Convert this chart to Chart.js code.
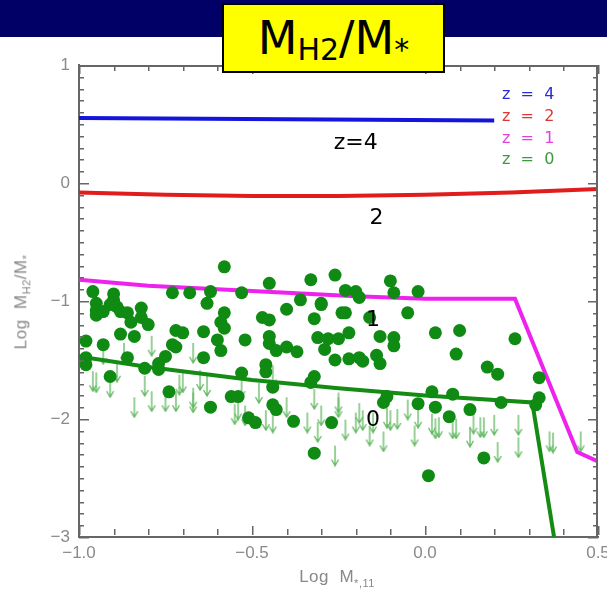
<!DOCTYPE html>
<html lang="en">
  <head>
    <meta charset="UTF-8" />
    <title>MH2/M* vs stellar mass</title>
    <script src="https://cdn.jsdelivr.net/npm/chart.js@4.4.0/dist/chart.umd.min.js"></script>
    <style>
      body { margin: 0; background: #fff; width: 607px; height: 595px; position: relative; overflow: hidden; }
      #band { position: absolute; left: 0; top: 0; width: 607px; height: 37px; background: #000066; }
      #wrap { position: absolute; left: 0; top: 0; width: 607px; height: 595px; }
      #title {
        position: absolute; left: 222px; top: 3px; width: 219px; height: 66px;
        background: #ffff00; border: 2px solid #000; text-align: center;
        font-family: "DejaVu Sans", sans-serif; font-size: 46px; line-height: 66px; color: #000;
      }
      #title sub { font-size: 30px; vertical-align: -6px; line-height: 0; }
      .axt { position: absolute; font-family: "Liberation Sans", sans-serif; font-size: 17px; color: #888; white-space: nowrap; letter-spacing: 0.5px; }
      .axt sub { font-size: 11px; }
      #ytitle { left: 22px; top: 302px; transform: translate(-50%, -50%) rotate(-90deg); }
      #xtitle { left: 337px; top: 578px; transform: translate(-50%, -50%); }
    </style>
  </head>
  <body>
    <div id="band"></div>
    <div id="wrap"><canvas id="chart" width="607" height="595"></canvas></div>
    <div id="title">M<sub>H2</sub>/M<sub>*</sub></div>
    <div class="axt" id="ytitle">Log&nbsp; M<sub>H2</sub>/M<sub>*</sub></div>
    <div class="axt" id="xtitle">Log&nbsp; M<sub>*,11</sub></div>

    <script>
      // model curves (log M*,11 -> log MH2/M*)
      const z4X = [-1.0, -0.4, 0.2];
      const z4Y = [0.55, 0.54, 0.53];
      const z2X = [-1.0, -0.75, -0.5, -0.25, 0.0, 0.25, 0.5];
      const z2Y = [-0.08, -0.1, -0.11, -0.11, -0.1, -0.08, -0.05];
      const z1X = [-1.0, -0.8, -0.6, -0.4, -0.2, 0.0, 0.26, 0.44, 0.5];
      const z1Y = [-0.82, -0.87, -0.9, -0.93, -0.96, -0.98, -0.98, -2.28, -2.36];
      const z0X = [-1.0, -0.8, -0.5, -0.25, 0.0, 0.31, 0.373];
      const z0Y = [-1.47, -1.56, -1.67, -1.74, -1.8, -1.86, -3.0];

      // detections (filled circles)
      const detX = [
        -0.58, -0.96, -0.9, -0.95, -0.95, -0.95, -0.93, -0.91, -0.9, -0.89, -0.88, -0.86, -0.85, -0.82, -0.82,
        -0.8, -0.73, -0.68, -0.62, -0.63, -0.53, -0.45, -0.33, -0.36, -0.3, -0.4, -0.58, -0.59, -0.58, -0.47,
        -0.45, -0.32, -0.72, -0.7, -0.64, -0.88, -0.84, -0.45, -0.45, -0.43, -0.31, -0.29, -0.52, -0.6, -0.59,
        -0.98, -0.93, -0.73, -0.72, -0.4, -0.37, -0.75, -0.86, -0.64, -0.98, -0.98, -0.77, -0.77, -0.81, -0.46,
        -0.46, -0.53, -0.91, -0.32, -0.33, -0.44, -0.74, -0.56, -0.54, -0.62, -0.44, -0.43, -0.51, -0.49, -0.38,
        -0.27, -0.32, -0.26, -0.23, -0.2, -0.19, -0.1, -0.09, -0.02, -0.3, -0.24, -0.23, -0.16, -0.05, 0.03,
        0.1, 0.26, -0.28, -0.25, -0.22, -0.13, -0.09, -0.09, -0.26, -0.22, -0.19, -0.18, -0.14, -0.13, 0.09,
        0.18, 0.21, 0.33, 0.02, 0.08, -0.11, -0.12, 0.33, 0.32, 0.22, 0.13, -0.02, 0.03, 0.07, 0.17, 0.01,
      ];
      const detY = [
        -0.71, -0.92, -0.94, -1.02, -1.08, -1.12, -1.09, -1.03, -0.99, -1.05, -1.09, -1.1, -1.18, -1.06, -1.14,
        -1.2, -0.93, -0.93, -0.92, -1.02, -0.93, -0.85, -0.82, -0.99, -1.02, -1.07, -1.1, -1.18, -1.23, -1.14,
        -1.16, -1.15, -1.25, -1.27, -1.26, -1.28, -1.3, -1.3, -1.36, -1.42, -1.31, -1.41, -1.33, -1.33, -1.42,
        -1.34, -1.37, -1.37, -1.39, -1.39, -1.43, -1.47, -1.48, -1.48, -1.48, -1.54, -1.53, -1.58, -1.57, -1.54,
        -1.6, -1.61, -1.64, -1.64, -1.69, -1.73, -1.77, -1.81, -1.81, -1.9, -1.88, -1.92, -1.99, -2.03, -2.02,
        -2.03, -2.29, -0.78, -0.91, -0.92, -0.97, -0.83, -0.93, -0.92, -1.03, -1.1, -1.1, -1.14, -1.1, -1.27,
        -1.25, -1.32, -1.32, -1.32, -1.27, -1.3, -1.31, -1.38, -1.5, -1.49, -1.48, -1.51, -1.46, -1.53, -1.45,
        -1.56, -1.62, -1.65, -1.77, -1.79, -1.81, -1.86, -1.82, -1.88, -1.86, -1.92, -1.87, -1.9, -1.98, -2.33, -2.48,
      ];

      // upper limits (arrows)
      const limX = [
        -0.79, -0.93, -0.87, -0.67, -0.96, -0.95, -0.91, -0.89, -0.81, -0.71, -0.7, -0.65, -0.63, -0.53, -0.48,
        -0.44, -0.32, -0.84, -0.79, -0.75, -0.72, -0.67, -0.67, -0.55, -0.54, -0.52, -0.44, -0.46, -0.4, -0.34,
        -0.31, -0.3, -0.25, -0.25, -0.23, -0.2, -0.26, -0.19, -0.18, -0.16, -0.15, -0.12, -0.11, -0.1, -0.08,
        -0.05, -0.03, -0.02, 0.02, 0.03, 0.04, 0.08, 0.09, 0.14, 0.13, 0.16, 0.17, 0.2, 0.21, 0.27, 0.27, 0.36,
        0.37, 0.45,
      ];
      const limY = [
        -1.38, -1.45, -1.44, -1.44, -1.68, -1.69, -1.73, -1.6, -1.72, -1.71, -1.69, -1.67, -1.72, -1.73, -1.78,
        -1.63, -1.83, -1.9, -1.85, -1.85, -1.85, -1.86, -1.82, -1.96, -1.92, -1.97, -2.03, -2.01, -1.9, -2.03,
        -2.11, -1.97, -1.86, -1.9, -2.09, -2.03, -2.31, -1.95, -2.01, -2.14, -2.03, -2.19, -1.99, -2.01, -2.0,
        -1.92, -2.14, -1.99, -2.04, -2.08, -2.07, -2.08, -2.08, -2.04, -2.15, -2.07, -2.07, -2.05, -2.28, -2.05,
        -2.24, -2.19, -2.2, -2.19,
      ];

      const legendText = ["z  =  4", "z  =  2", "z  =  1", "z  =  0"];
      const legendColors = ["#2a2ad8", "#e03535", "#e040e0", "#3c9a3c"];
      const noteText = ["z=4", "2", "1", "0"];
      const noteX = [-0.2, -0.14, -0.15, -0.15];
      const noteY = [0.34, -0.3, -1.16, -2.01];

      const pts = (xs, ys) => xs.map((x, i) => ({ x: x, y: ys[i] }));

      // arrow marker for upper limits
      const arrow = document.createElement("canvas");
      arrow.width = 10;
      arrow.height = 22;
      const actx = arrow.getContext("2d");
      actx.strokeStyle = "#62b862";
      actx.lineWidth = 1.3;
      actx.beginPath();
      actx.moveTo(5, 1);
      actx.lineTo(5, 21);
      actx.moveTo(1.5, 15);
      actx.lineTo(5, 21);
      actx.lineTo(8.5, 15);
      actx.stroke();

      const minus = (s) => s.replace("-", "\u2212");

      // top/right frame edges with inward ticks, z labels on the curves, colour key
      const decor = {
        id: "decor",
        afterDatasetsDraw(chart) {
          const { ctx, chartArea: a, scales } = chart;
          const xs = scales.x, ys = scales.y;
          const L = Math.round(a.left), R = Math.round(a.right) - 2;
          const T = Math.round(a.top), B = Math.round(a.bottom) - 2;
          ctx.save();
          ctx.fillStyle = "#666";
          ctx.fillRect(L, T, R - L + 2, 2);
          ctx.fillRect(R, T, 2, B - T + 2);
          for (let i = 0; i <= 15; i++) {
            const px = Math.round(xs.getPixelForValue(-1 + i * 0.1));
            const len = i % 5 === 0 ? 9 : 6;
            ctx.fillRect(px, B - len, 1.5, len);
            ctx.fillRect(px, T, 1.5, len);
          }
          for (let i = 0; i <= 40; i++) {
            const py = Math.round(ys.getPixelForValue(-3 + i * 0.1));
            const len = i % 10 === 0 ? 10 : 5;
            ctx.fillRect(L, py, len, 1.5);
            ctx.fillRect(R - len + 2, py, len, 1.5);
          }

          ctx.fillStyle = "#000";
          ctx.font = '22px "DejaVu Sans"';
          ctx.textAlign = "center";
          ctx.textBaseline = "middle";
          noteText.forEach((t, i) => {
            ctx.fillText(t, xs.getPixelForValue(noteX[i]), ys.getPixelForValue(noteY[i]));
          });
          ctx.font = '16px "DejaVu Sans"';
          ctx.textAlign = "left";
          legendText.forEach((t, i) => {
            ctx.fillStyle = legendColors[i];
            ctx.fillText(t, a.right - 96, a.top + 30 + i * 21.7);
          });
          ctx.restore();
        },
      };

      const lineDs = (xs, ys, color) => ({
        type: "line",
        data: pts(xs, ys),
        borderColor: color,
        borderWidth: 4,
        pointRadius: 0,
        showLine: true,
        fill: false,
        tension: 0,
        order: 1,
      });

      new Chart(document.getElementById("chart"), {
        type: "scatter",
        data: {
          datasets: [
            {
              data: pts(detX, detY),
              backgroundColor: "#0f8a12",
              borderWidth: 0,
              pointRadius: 6.5,
              order: 0,
            },
            lineDs(z4X, z4Y, "#1414dc"),
            lineDs(z2X, z2Y, "#e01c1c"),
            lineDs(z1X, z1Y, "#ee22ee"),
            lineDs(z0X, z0Y, "#148c14"),
            {
              data: pts(limX, limY),
              pointStyle: arrow,
              pointRadius: 5,
              order: 2,
            },
          ],
        },
        options: {
          responsive: false,
          animation: false,
          devicePixelRatio: 1,
          layout: { padding: { top: 65, right: 9, left: 0, bottom: 0 } },
          plugins: { legend: { display: false }, tooltip: { enabled: false } },
          scales: {
            x: {
              type: "linear",
              min: -1,
              max: 0.5,
              grid: { display: true, drawOnChartArea: false, drawTicks: false },
              border: { display: true, color: "#666", width: 2 },
              ticks: {
                stepSize: 0.5,
                padding: 6,
                color: "#8a8a8a",
                font: { family: "Liberation Sans", size: 17 },
                maxRotation: 0,
                callback: (v) => minus(Number(v).toFixed(1)),
              },
              afterFit: (s) => { s.height = 58; s.paddingLeft = 0; s.paddingRight = 0; },
            },
            y: {
              type: "linear",
              min: -3,
              max: 1,
              grid: { display: true, drawOnChartArea: false, drawTicks: false },
              border: { display: true, color: "#666", width: 2 },
              ticks: {
                stepSize: 1,
                padding: 9,
                color: "#8a8a8a",
                font: { family: "Liberation Sans", size: 17 },
                callback: (v) => minus(String(v)),
              },
              afterFit: (s) => { s.width = 79; s.paddingTop = 0; s.paddingBottom = 0; },
            },
          },
        },
        plugins: [decor],
      });
    </script>
  </body>
</html>
